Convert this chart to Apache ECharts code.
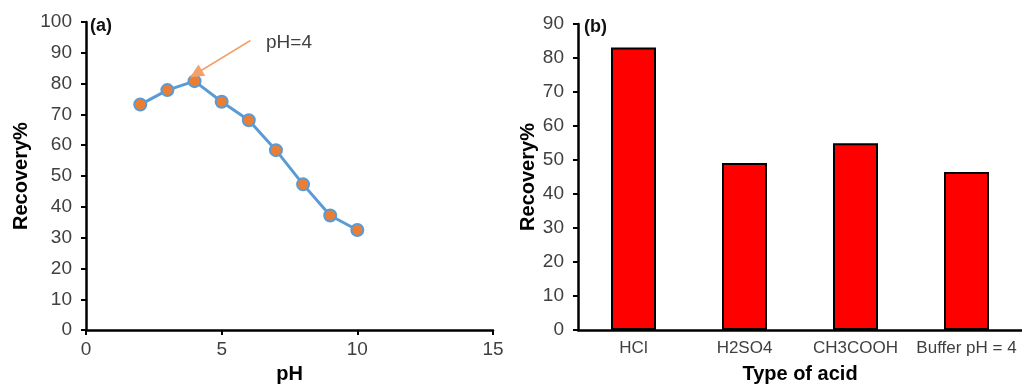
<!DOCTYPE html>
<html>
<head>
<meta charset="utf-8">
<script src="https://cdn.jsdelivr.net/npm/echarts@6/dist/echarts.min.js"></script>
<style>
  html, body { margin: 0; padding: 0; background: #fff; }
  #chart { width: 1022px; height: 389px; }
</style>
</head>
<body>
<div id="chart"></div>
<script>
// panel (a): recovery vs pH
const phValues = [2, 3, 4, 5, 6, 7, 8, 9, 10]
const phRecovery = [73.2, 77.9, 80.8, 74.1, 68.1, 58.4, 47.3, 37.2, 32.5]
// arrow pointing at the optimum (data coords)
const arrowFrom = [6.06, 94.0]
const arrowTo = [4.05, 83.2]

// panel (b): recovery by acid type
const acidTypes = ['HCl', 'H2SO4', 'CH3COOH', 'Buffer pH = 4']
const acidRecovery = [83.1, 49.1, 54.9, 46.5]

const tickColor = '#404040'
const fontFam = '"Liberation Sans", Arial, sans-serif'

const myChart = echarts.init(document.getElementById('chart'))

const axisCommon = {
  axisLine: { show: true, onZero: false, lineStyle: { color: '#000', width: 2.5 } },
  axisTick: { show: true, inside: false, length: 5, lineStyle: { color: '#000', width: 2 } },
  axisLabel: { color: tickColor, fontSize: 19, fontFamily: fontFam },
  splitLine: { show: false },
  nameTextStyle: { color: '#000', fontSize: 20, fontWeight: 'bold', fontFamily: fontFam }
}

const option = {
  animation: false,
  textStyle: { fontFamily: fontFam },
  grid: [
    { left: 86, top: 22, width: 407, height: 318 },
    { left: 578, top: 24, width: 448, height: 311 }
  ],
  xAxis: [
    {
      ...axisCommon,
      gridIndex: 0,
      type: 'value',
      min: 0,
      max: 15,
      interval: 5,
      name: 'pH',
      nameLocation: 'middle',
      nameGap: 29,
      axisLabel: { ...axisCommon.axisLabel, margin: 10 }
    },
    {
      ...axisCommon,
      gridIndex: 1,
      type: 'category',
      data: acidTypes,
      name: 'Type of acid',
      nameLocation: 'middle',
      nameGap: 34,
      axisTick: { show: false },
      axisLabel: { ...axisCommon.axisLabel, fontSize: 17, margin: 10, interval: 0 }
    }
  ],
  yAxis: [
    {
      ...axisCommon,
      gridIndex: 0,
      type: 'value',
      min: 0,
      max: 100,
      interval: 10,
      name: 'Recovery%',
      nameLocation: 'middle',
      nameGap: 55,
      axisLabel: { ...axisCommon.axisLabel, margin: 14 }
    },
    {
      ...axisCommon,
      gridIndex: 1,
      type: 'value',
      min: 0,
      max: 90,
      interval: 10,
      name: 'Recovery%',
      nameLocation: 'middle',
      nameGap: 40,
      axisLabel: { ...axisCommon.axisLabel, margin: 14 }
    }
  ],
  graphic: [
    { type: 'text', left: 90, top: 17, style: { text: '(a)', fontSize: 18, fontWeight: 'bold', fill: '#111', fontFamily: fontFam } },
    { type: 'text', left: 584, top: 18, style: { text: '(b)', fontSize: 18, fontWeight: 'bold', fill: '#111', fontFamily: fontFam } },
    { type: 'text', left: 266, top: 33, style: { text: 'pH=4', fontSize: 19, fill: tickColor, fontFamily: fontFam } }
  ],
  series: [
    {
      name: 'pH',
      type: 'line',
      xAxisIndex: 0,
      yAxisIndex: 0,
      data: phValues.map((x, i) => [x, phRecovery[i]]),
      symbol: 'circle',
      symbolSize: 12,
      lineStyle: { color: '#5B9BD5', width: 3 },
      itemStyle: { color: '#ED7D31', borderColor: '#5B9BD5', borderWidth: 2 },
      markLine: {
        silent: true,
        symbol: ['none', 'triangle'],
        symbolSize: [13, 14],
        lineStyle: { color: '#F4A06A', width: 1.5, type: 'solid' },
        label: { show: false },
        emphasis: { disabled: true },
        data: [[
          { coord: arrowFrom, symbol: 'none' },
          { coord: arrowTo, symbol: 'triangle', itemStyle: { color: '#ED7D31' } }
        ]]
      }
    },
    {
      name: 'acid',
      type: 'bar',
      xAxisIndex: 1,
      yAxisIndex: 1,
      data: acidRecovery,
      barWidth: 45,
      itemStyle: { color: '#FF0000', borderColor: '#000', borderWidth: 2 }
    }
  ]
}

myChart.setOption(option)
window.addEventListener('resize', function () {
  myChart.resize()
})
</script>
</body>
</html>
